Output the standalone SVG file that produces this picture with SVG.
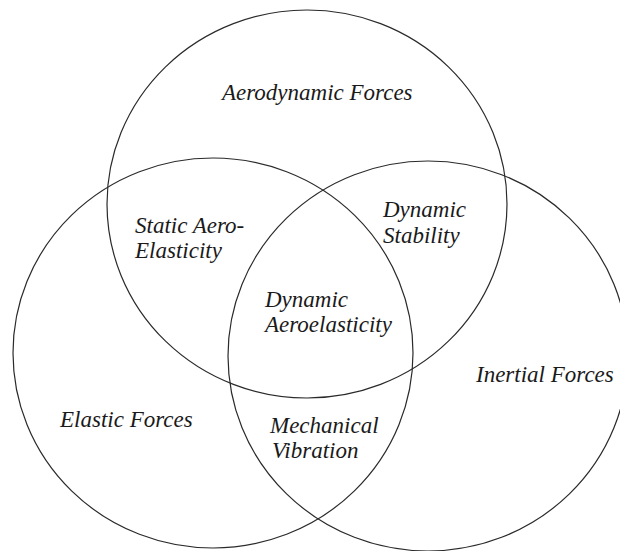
<svg xmlns="http://www.w3.org/2000/svg" width="620" height="551" viewBox="0 0 620 551">
<style>
.c{fill:none;stroke:#2a2a2a;stroke-width:1.2}
.t{font-family:"Liberation Serif","Times New Roman",serif;font-style:italic;font-size:23px;fill:#1a1a1a}
</style>
<rect width="620" height="551" fill="#fff"/>
<g id="connectors"></g>
<g id="aerodynamic">
<ellipse class="c" cx="307" cy="204" rx="200" ry="194"/>
<text class="t" x="222" y="100">Aerodynamic Forces</text>
</g>
<g id="elastic">
<ellipse class="c" cx="213" cy="353" rx="200" ry="195"/>
<text class="t" x="60" y="427">Elastic Forces</text>
</g>
<g id="inertial">
<ellipse class="c" cx="428" cy="356" rx="200" ry="195"/>
<text class="t" x="476" y="382">Inertial Forces</text>
</g>
<g id="static-aeroelasticity">
<text class="t" x="135" y="233">Static Aero-</text>
<text class="t" x="135" y="258">Elasticity</text>
</g>
<g id="dynamic-stability">
<text class="t" x="383" y="217">Dynamic</text>
<text class="t" x="383" y="243">Stability</text>
</g>
<g id="dynamic-aeroelasticity">
<text class="t" x="265" y="307">Dynamic</text>
<text class="t" x="265" y="332">Aeroelasticity</text>
</g>
<g id="mechanical-vibration">
<text class="t" x="270" y="433">Mechanical</text>
<text class="t" x="272" y="458">Vibration</text>
</g>
</svg>
